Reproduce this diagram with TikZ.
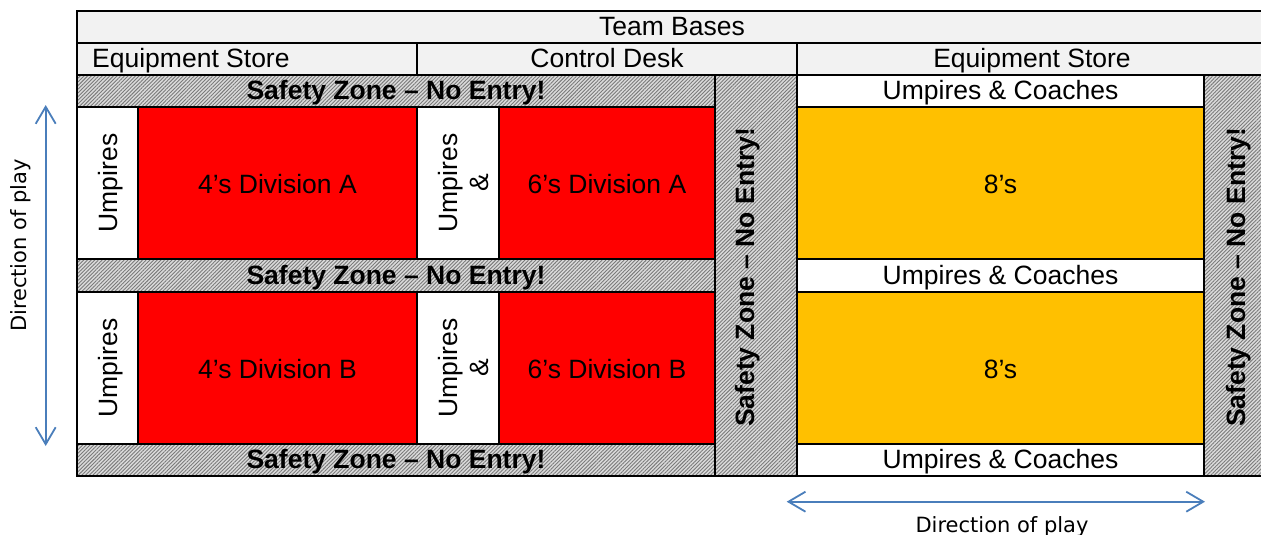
\documentclass[tikz,border=0pt]{standalone}
\usepackage{fontspec}
\setmainfont{Liberation Sans}
\newfontfamily\dirfont{DejaVu Sans}
\usetikzlibrary{arrows.meta,patterns.meta}
\definecolor{hdrgray}{HTML}{F2F2F2}
\definecolor{divred}{HTML}{FF0000}
\definecolor{eightorange}{HTML}{FFC000}
\definecolor{arrowblue}{RGB}{74,126,187}
\tikzset{
  gridline/.style={draw=black, line width=2pt},
  hatchzone/.style={fill=black!14, postaction={pattern={Lines[angle=45,distance=2.6pt,line width=0.9pt]}, pattern color=black!52}},
  lbl/.style={font=\fontsize{26.5}{30}\selectfont, inner sep=0pt, anchor=base},
  blbl/.style={font=\fontsize{26.5}{30}\selectfont\bfseries, inner sep=0pt, anchor=base},
  vlbl/.style={lbl, rotate=90},
  vblbl/.style={blbl, rotate=90},
  dirlbl/.style={font=\dirfont\fontsize{21}{25}\selectfont, inner sep=0pt, anchor=base},
  playarrow/.style={draw=arrowblue, line width=1.8pt, {Straight Barb[length=17pt,width=20pt]}-{Straight Barb[length=17pt,width=20pt]}},
}
\begin{document}
\begin{tikzpicture}[x=1pt,y=-1pt]
\useasboundingbox (0,0) rectangle (1261,535);
\clip (0,0) rectangle (1261,535);
% backgrounds
\fill[hdrgray] (77,11) rectangle (1267,75);
\path[hatchzone] (77,75) rectangle (715,107);
\path[hatchzone] (77,259) rectangle (715,292);
\path[hatchzone] (77,444) rectangle (715,476);
\path[hatchzone] (715,75) rectangle (797,476);
\path[hatchzone] (1204,75) rectangle (1267,476);
\fill[divred] (138,107) rectangle (417,259);
\fill[divred] (499,107) rectangle (715,259);
\fill[divred] (138,292) rectangle (417,444);
\fill[divred] (499,292) rectangle (715,444);
\fill[eightorange] (797,107) rectangle (1204,259);
\fill[eightorange] (797,292) rectangle (1204,444);
% grid
\draw[gridline] (77,11) rectangle (1267,476);
\draw[gridline] (77,43) -- (1267,43);
\draw[gridline] (77,75) -- (1267,75);
\foreach \yy in {107,259,292,444}{
  \draw[gridline] (77,\yy) -- (715,\yy);
  \draw[gridline] (797,\yy) -- (1204,\yy);
}
\draw[gridline] (417,43) -- (417,75);
\draw[gridline] (797,43) -- (797,476);
\draw[gridline] (715,75) -- (715,476);
\draw[gridline] (1204,75) -- (1204,476);
\foreach \xx in {138,417,499}{
  \draw[gridline] (\xx,107) -- (\xx,259);
  \draw[gridline] (\xx,292) -- (\xx,444);
}
% header texts
\node[lbl] (teambases) at (672,35.5) {Team Bases};
\node[lbl, anchor=base west] (eqstoreL) at (92,67.5) {Equipment Store};
\node[lbl] (controldesk) at (607,67.5) {Control Desk};
\node[lbl] (eqstoreR) at (1032,67.5) {Equipment Store};
% safety rows
\node[blbl] (safe1) at (396,99.5) {Safety Zone – No Entry!};
\node[blbl] (safe2) at (396,284) {Safety Zone – No Entry!};
\node[blbl] (safe3) at (396,468.8) {Safety Zone – No Entry!};
\node[vblbl] (safeV1) at (754,277.5) {Safety Zone – No Entry!};
\node[vblbl] (safeV2) at (1245,277.5) {Safety Zone – No Entry!};
% umpires & coaches
\node[lbl] (uc1) at (1000.5,99.5) {Umpires \& Coaches};
\node[lbl] (uc2) at (1000.5,284) {Umpires \& Coaches};
\node[lbl] (uc3) at (1000.5,468.8) {Umpires \& Coaches};
% divisions
\node[lbl] (d4a) at (277.5,193.3) {4’s Division A};
\node[lbl] (d6a) at (607,193.3) {6’s Division A};
\node[lbl] (e8a) at (1000.5,193.3) {8’s};
\node[lbl] (d4b) at (277.5,378.3) {4’s Division B};
\node[lbl] (d6b) at (607,378.3) {6’s Division B};
\node[lbl] (e8b) at (1000.5,378.3) {8’s};
% umpires columns
\node[vlbl] (umpA) at (117.5,183) {Umpires};
\node[vlbl] (umpB) at (117.5,368) {Umpires};
\node[vlbl] (ump2A) at (457.3,183) {Umpires};
\node[vlbl] (ampA) at (488.3,183) {\&};
\node[vlbl] (ump2B) at (457.3,368) {Umpires};
\node[vlbl] (ampB) at (488.3,368) {\&};
% direction arrows
\coordinate (lt) at (45.7,105);
\coordinate (lb) at (45.7,446);
\draw[playarrow] (lt) -- (lb);
\node[dirlbl, rotate=90] (dirL) at (26,245.5) {Direction of play};
\coordinate (bl) at (786.7,501.7);
\coordinate (br) at (1205,501.7);
\draw[playarrow] (bl) -- (br);
\node[dirlbl] (dirB) at (1002,532.3) {Direction of play};
\end{tikzpicture}
\end{document}
